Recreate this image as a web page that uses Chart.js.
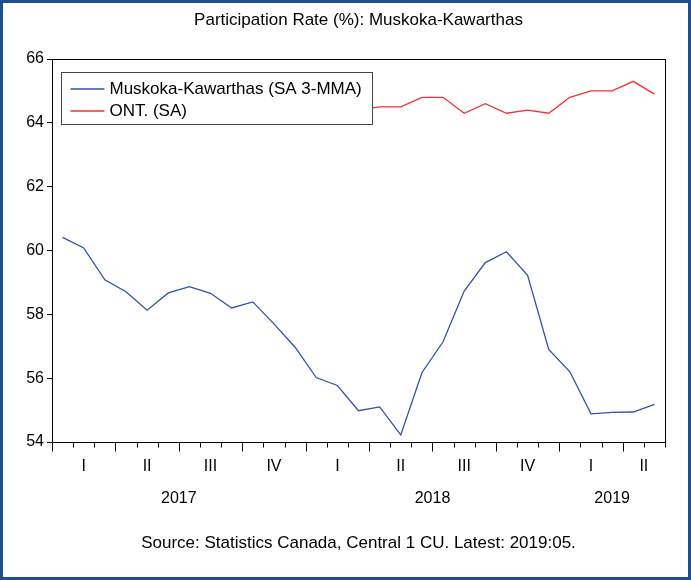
<!DOCTYPE html>
<html>
<head>
<meta charset="utf-8">
<title>Participation Rate</title>
<script src="https://cdn.jsdelivr.net/npm/chart.js@4.4.1/dist/chart.umd.min.js"></script>
<style>
    body { margin: 0; background: #fff; }
    #frame {
        width: 691px; height: 580px; box-sizing: border-box;
        border: 3px solid #1f4e8c; background: #fff;
    }
    canvas { display: block; }
</style>
</head>
<body>
<div id="frame"><canvas id="canvas" width="685" height="574"></canvas></div>
<script>
    // monthly observations, Jan 2017 - May 2019
    const months = ['2017-01', '2017-02', '2017-03', '2017-04', '2017-05', '2017-06', '2017-07', '2017-08', '2017-09', '2017-10', '2017-11', '2017-12',
        '2018-01', '2018-02', '2018-03', '2018-04', '2018-05', '2018-06', '2018-07', '2018-08', '2018-09', '2018-10', '2018-11', '2018-12',
        '2019-01', '2019-02', '2019-03', '2019-04', '2019-05'];

    // Muskoka-Kawarthas (SA 3-MMA)
    const muskoka = [60.41, 60.08, 59.08, 58.71, 58.13, 58.67, 58.87, 58.66, 58.20, 58.39, 57.70, 56.97,
        56.02, 55.77, 54.98, 55.10, 54.22, 56.17, 57.14, 58.73, 59.62, 59.96, 59.22, 56.90,
        56.20, 54.88, 54.93, 54.94, 55.18];

    // Ontario (SA)
    const ontario = [64.7, 64.8, 64.7, 64.6, 64.8, 64.8, 64.6, 64.7, 64.6, 64.7, 64.7, 64.6,
        64.5, 64.6, 64.4, 64.5, 64.5, 64.8, 64.8, 64.3, 64.6, 64.3, 64.4, 64.3,
        64.8, 65.0, 65.0, 65.3, 64.9];

    const seriesNames = ['Muskoka-Kawarthas (SA 3-MMA)', 'ONT. (SA)'];
    const seriesColors = ['#3152aa', '#f03036'];
    const quarterNames = ['I', 'II', 'III', 'IV'];
    const yTicks = [54, 56, 58, 60, 62, 64, 66];

    const FONT = "'Liberation Sans', Arial, sans-serif";

    // group months into quarters and years -> centre positions on the month axis
    function groups(keyOf) {
        const out = [];
        months.forEach(function (m, i) {
            const k = keyOf(m);
            const last = out[out.length - 1];
            if (last && last.key === k) last.end = i + 1;
            else out.push({ key: k, start: i, end: i + 1 });
        });
        return out.map(function (g) { return { key: g.key, value: (g.start + g.end) / 2 }; });
    }
    const quarters = groups(function (m) {
        return quarterNames[Math.floor((+m.slice(5) - 1) / 3)] + '|' + m.slice(0, 4);
    });
    const years = groups(function (m) { return m.slice(0, 4); });

    function toPoints(arr) {
        return arr.map(function (v, i) { return { x: i + 0.5, y: v }; });
    }

    // frame, month ticks and boxed legend drawn over the lines
    const eviewsLook = {
        id: 'eviewsLook',
        afterDatasetsDraw(chart) {
            const ctx = chart.ctx;
            const a = chart.chartArea;
            const sx = chart.scales.x;
            const L = Math.round(a.left) + 0.5, R = Math.round(a.right) + 0.5;
            const T = Math.round(a.top) + 0.5, B = Math.round(a.bottom) + 0.5;
            ctx.save();
            ctx.strokeStyle = '#000';
            ctx.lineWidth = 1;
            ctx.strokeRect(L, T, R - L, B - T);

            // month ticks, longer at quarter starts
            for (let i = 0; i <= months.length; i++) {
                const mon = (+months[0].slice(5) - 1 + i) % 12;
                const len = mon % 3 === 0 ? 9 : 5;
                const px = Math.round(sx.getPixelForValue(i)) + 0.5;
                ctx.beginPath();
                ctx.moveTo(px, B);
                ctx.lineTo(px, B + len);
                ctx.stroke();
            }

            // legend box
            const bx = Math.round(a.left) + 9.5, by = Math.round(a.top) + 13.5;
            ctx.fillStyle = '#fff';
            ctx.fillRect(bx, by, 311, 52);
            ctx.strokeStyle = '#444';
            ctx.strokeRect(bx, by, 311, 52);
            ctx.font = '17px ' + FONT;
            ctx.textBaseline = 'middle';
            chart.data.datasets.forEach(function (ds, i) {
                const ry = Math.round(by + 16 + i * 22);
                ctx.strokeStyle = seriesColors[i];
                ctx.lineWidth = 1.5;
                ctx.beginPath();
                ctx.moveTo(bx + 9, ry);
                ctx.lineTo(bx + 43, ry);
                ctx.stroke();
                ctx.fillStyle = '#000';
                ctx.fillText(ds.label, bx + 48, ry);
            });
            ctx.restore();
        }
    };

    new Chart(document.getElementById('canvas'), {
        type: 'line',
        data: {
            datasets: [{
                label: seriesNames[0],
                data: toPoints(muskoka),
                borderColor: seriesColors[0],
                borderWidth: 1.3,
                pointRadius: 0,
                tension: 0
            }, {
                label: seriesNames[1],
                data: toPoints(ontario),
                borderColor: seriesColors[1],
                borderWidth: 1.3,
                pointRadius: 0,
                tension: 0
            }]
        },
        options: {
            responsive: false,
            animation: false,
            layout: { padding: { left: 0, right: 23, top: 0, bottom: 0 } },
            plugins: {
                legend: { display: false },
                tooltip: { enabled: false },
                title: {
                    display: true,
                    text: 'Participation Rate (%): Muskoka-Kawarthas',
                    fullSize: false,
                    color: '#000',
                    font: { family: FONT, size: 17, weight: 'normal' },
                    padding: { top: 7, bottom: 28.6 }
                },
                subtitle: {
                    display: true,
                    position: 'bottom',
                    text: 'Source: Statistics Canada, Central 1 CU. Latest: 2019:05.',
                    fullSize: false,
                    color: '#000',
                    font: { family: FONT, size: 17 },
                    padding: { top: 11, bottom: 23.6 }
                }
            },
            scales: {
                x: {
                    type: 'linear',
                    position: 'bottom',
                    min: 0,
                    max: months.length,
                    grid: { display: false, drawTicks: false },
                    border: { display: false },
                    afterBuildTicks: function (s) { s.ticks = quarters.map(function (q) { return { value: q.value }; }); },
                    afterFit: function (s) { s.height = 40; },
                    ticks: {
                        autoSkip: false,
                        maxRotation: 0,
                        padding: 14.5,
                        color: '#000',
                        font: { family: FONT, size: 16 },
                        callback: function (v, i) { return quarters[i].key.split('|')[0]; }
                    }
                },
                x2: {
                    type: 'linear',
                    position: 'bottom',
                    min: 0,
                    max: months.length,
                    grid: { display: false, drawTicks: false },
                    border: { display: false },
                    afterBuildTicks: function (s) { s.ticks = years.map(function (y) { return { value: y.value }; }); },
                    afterFit: function (s) { s.height = 40; },
                    ticks: {
                        autoSkip: false,
                        maxRotation: 0,
                        padding: 7,
                        color: '#000',
                        font: { family: FONT, size: 16 },
                        callback: function (v, i) { return years[i].key; }
                    }
                },
                y: {
                    min: yTicks[0],
                    max: yTicks[yTicks.length - 1],
                    afterBuildTicks: function (s) { s.ticks = yTicks.map(function (v) { return { value: v }; }); },
                    afterFit: function (s) { s.width = 49; },
                    grid: { drawOnChartArea: false, drawTicks: true, tickLength: 5, color: '#000' },
                    border: { display: true, color: '#000' },
                    ticks: {
                        padding: 3,
                        color: '#000',
                        font: { family: FONT, size: 16 }
                    }
                }
            }
        },
        plugins: [eviewsLook]
    });
</script>
</body>
</html>
